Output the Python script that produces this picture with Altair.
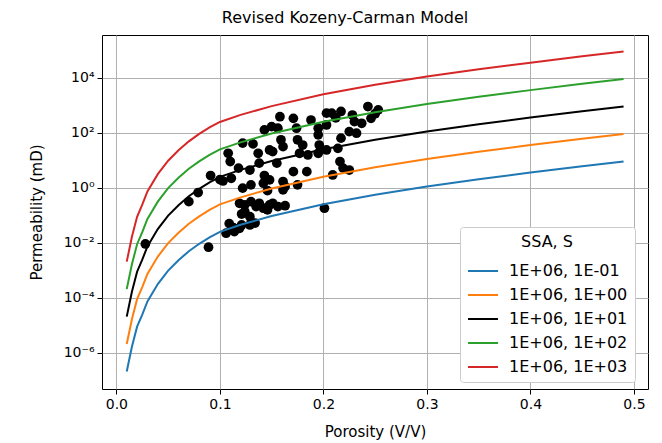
import altair as alt
import pandas as pd

# ---- model curves (porosity vs permeability, mD) ----
porosity = [0.01, 0.015, 0.02, 0.025, 0.03, 0.04, 0.05, 0.06, 0.07, 0.08, 0.09,
            0.10, 0.12, 0.15, 0.20, 0.25, 0.30, 0.35, 0.40, 0.45, 0.49]
k_s1e_1 = [2.07e-7, 1.66e-6, 8.91e-6, 2.45e-5, 7.41e-5, 3.16e-4, 9.77e-4, 2.34e-3, 4.95e-3, 9.23e-3, 1.58e-2,
           2.51e-2, 4.53e-2, 9.46e-2, 0.254, 0.564, 1.12, 2.06, 3.61, 6.11, 9.16]
k_s1e0 = [2.07e-6, 1.66e-5, 8.91e-5, 2.45e-4, 7.41e-4, 3.16e-3, 9.77e-3, 2.34e-2, 4.95e-2, 9.23e-2, 0.158,
          0.251, 0.453, 0.946, 2.54, 5.64, 11.2, 20.6, 36.1, 61.1, 91.6]
k_s1e1 = [2.07e-5, 1.66e-4, 8.91e-4, 2.45e-3, 7.41e-3, 3.16e-2, 9.77e-2, 0.234, 0.495, 0.923, 1.58,
          2.51, 4.53, 9.46, 25.4, 56.4, 112, 206, 361, 611, 916]
k_s1e2 = [2.07e-4, 1.66e-3, 8.91e-3, 2.45e-2, 7.41e-2, 0.316, 0.977, 2.34, 4.95, 9.23, 15.8,
          25.1, 45.3, 94.6, 254, 564, 1120, 2060, 3610, 6110, 9160]
k_s1e3 = [2.07e-3, 1.66e-2, 8.91e-2, 0.245, 0.741, 3.16, 9.77, 23.4, 49.5, 92.3, 158,
          251, 453, 946, 2540, 5640, 11200, 20600, 36100, 61100, 91600]

series_names = ["1E+06, 1E-01", "1E+06, 1E+00", "1E+06, 1E+01", "1E+06, 1E+02", "1E+06, 1E+03"]
series_colors = ["#1f77b4", "#ff7f0e", "#000000", "#2ca02c", "#d62728"]

# ---- measured samples ----
sample_phi = [0.028, 0.089, 0.070, 0.079, 0.091, 0.100, 0.103,
              0.108, 0.110, 0.118, 0.122, 0.132, 0.129, 0.111, 0.137, 0.138, 0.143, 0.150, 0.143,
              0.122, 0.130, 0.142, 0.146, 0.151, 0.155, 0.156, 0.158, 0.159, 0.161, 0.148, 0.148,
              0.161, 0.163, 0.161,
              0.171, 0.174, 0.175, 0.171, 0.175, 0.180, 0.177, 0.185, 0.184, 0.188, 0.195, 0.195,
              0.195, 0.203, 0.203, 0.203, 0.196,
              0.208, 0.217, 0.243, 0.253, 0.246, 0.230, 0.237, 0.225, 0.232, 0.217, 0.214, 0.216,
              0.219, 0.225, 0.209, 0.250, 0.212, 0.228,
              0.119, 0.124, 0.124, 0.130, 0.135, 0.138, 0.142, 0.146, 0.151, 0.156, 0.163, 0.148,
              0.121, 0.129, 0.134, 0.121, 0.109, 0.113, 0.106, 0.114, 0.119, 0.129, 0.201]
sample_k = [0.00912, 0.00692, 0.316, 0.676, 2.82, 2.00, 1.78,
            18.2, 9.12, 5.25, 42.7, 39.8, 4.47, 2.24, 18.2, 7.94, 129, 170, 2.82,
            0.977, 1.29, 1.48, 0.794, 20.9, 7.94, 148, 389, 56.2, 31.6, 24.0, 1.95,
            1.70, 1.12, 0.851,
            339, 148, 56.2, 3.89, 1.29, 36.3, 18.2, 15.8, 3.89, 295, 148, 85.1,
            18.2, 24.0, 525, 195, 36.3,
            525, 603, 912, 692, 339, 257, 224, 112, 97.7, 64.6, 27.5, 9.12,
            5.25, 4.47, 2.95, 501, 355, 447,
            0.275, 0.240, 0.138, 0.316, 0.209, 0.275, 0.182, 0.158, 0.275, 0.209, 0.224, 0.240,
            0.112, 0.0891, 0.0525, 0.0447, 0.0501, 0.0355, 0.0224, 0.0257, 0.0339, 0.0447, 0.182]

rows = []
for name, vals in zip(series_names, [k_s1e_1, k_s1e0, k_s1e1, k_s1e2, k_s1e3]):
    for p, k in zip(porosity, vals):
        rows.append({"phi": p, "k": k, "series": name})
lines_df = pd.DataFrame(rows)
pts_df = pd.DataFrame({"phi": sample_phi, "k": sample_k})

FONT = "DejaVu Sans"

x_enc = alt.X("phi:Q",
              scale=alt.Scale(domain=[-0.0139, 0.5136], nice=False, zero=False),
              axis=alt.Axis(values=[0.0, 0.1, 0.2, 0.3, 0.4, 0.5], format=".1f",
                            title="Porosity (V/V)"))
y_enc = alt.Y("k:Q",
              scale=alt.Scale(type="log", domain=[4.8e-8, 3.66e5], nice=False),
              axis=alt.Axis(values=[1e-6, 1e-4, 1e-2, 1, 1e2, 1e4],
                            labelExpr="datum.value < 1e-5 ? '10⁻⁶' : datum.value < 1e-3 ? '10⁻⁴' : datum.value < 1e-1 ? '10⁻²' : datum.value < 10 ? '10⁰' : datum.value < 1000 ? '10²' : '10⁴'",
                            title="Permeability (mD)"))

points = alt.Chart(pts_df).mark_circle(size=95, color="black", opacity=1).encode(
    x=x_enc, y=y_enc)

lines = alt.Chart(lines_df).mark_line(strokeWidth=2).encode(
    x=x_enc, y=y_enc,
    color=alt.Color("series:N",
                    scale=alt.Scale(domain=series_names, range=series_colors),
                    legend=alt.Legend(title="SSA, S", orient="none", legendX=358, legendY=192,
                                      titleAnchor="middle", symbolType="stroke",
                                      symbolSize=900, symbolStrokeWidth=2,
                                      fillColor="white", strokeColor="#cccccc",
                                      cornerRadius=3, padding=7, rowPadding=0,
                                      labelOffset=10)),
    order=alt.Order("phi:Q"))

chart = alt.layer(points, lines).properties(
    width=546, height=354,
    background="white",
    title=alt.Title("Revised Kozeny-Carman Model", fontSize=16, fontWeight="normal",
                    font=FONT, color="black", anchor="middle", offset=9, dx=-30),
    autosize=alt.AutoSizeParams(type="none"),
    padding={"left": 102, "top": 35, "right": 14, "bottom": 54},
).configure_view(stroke="black", strokeWidth=1).configure_axis(
    grid=True, gridColor="#b0b0b0", gridWidth=1, domain=False,
    tickColor="black", tickSize=5, labelFont=FONT, labelFontSize=14, labelColor="black",
    labelPadding=3, titleFont=FONT, titleFontSize=15, titleFontWeight="normal",
    titleColor="black",
).configure_axisY(titlePadding=19).configure_axisX(titlePadding=13).configure_legend(
    labelFont=FONT, labelFontSize=16, labelColor="black",
    titleFont=FONT, titleFontSize=16, titleFontWeight="normal", titleColor="black",
)

chart.save("out.html", embed_options={"renderer": "svg", "actions": False})
